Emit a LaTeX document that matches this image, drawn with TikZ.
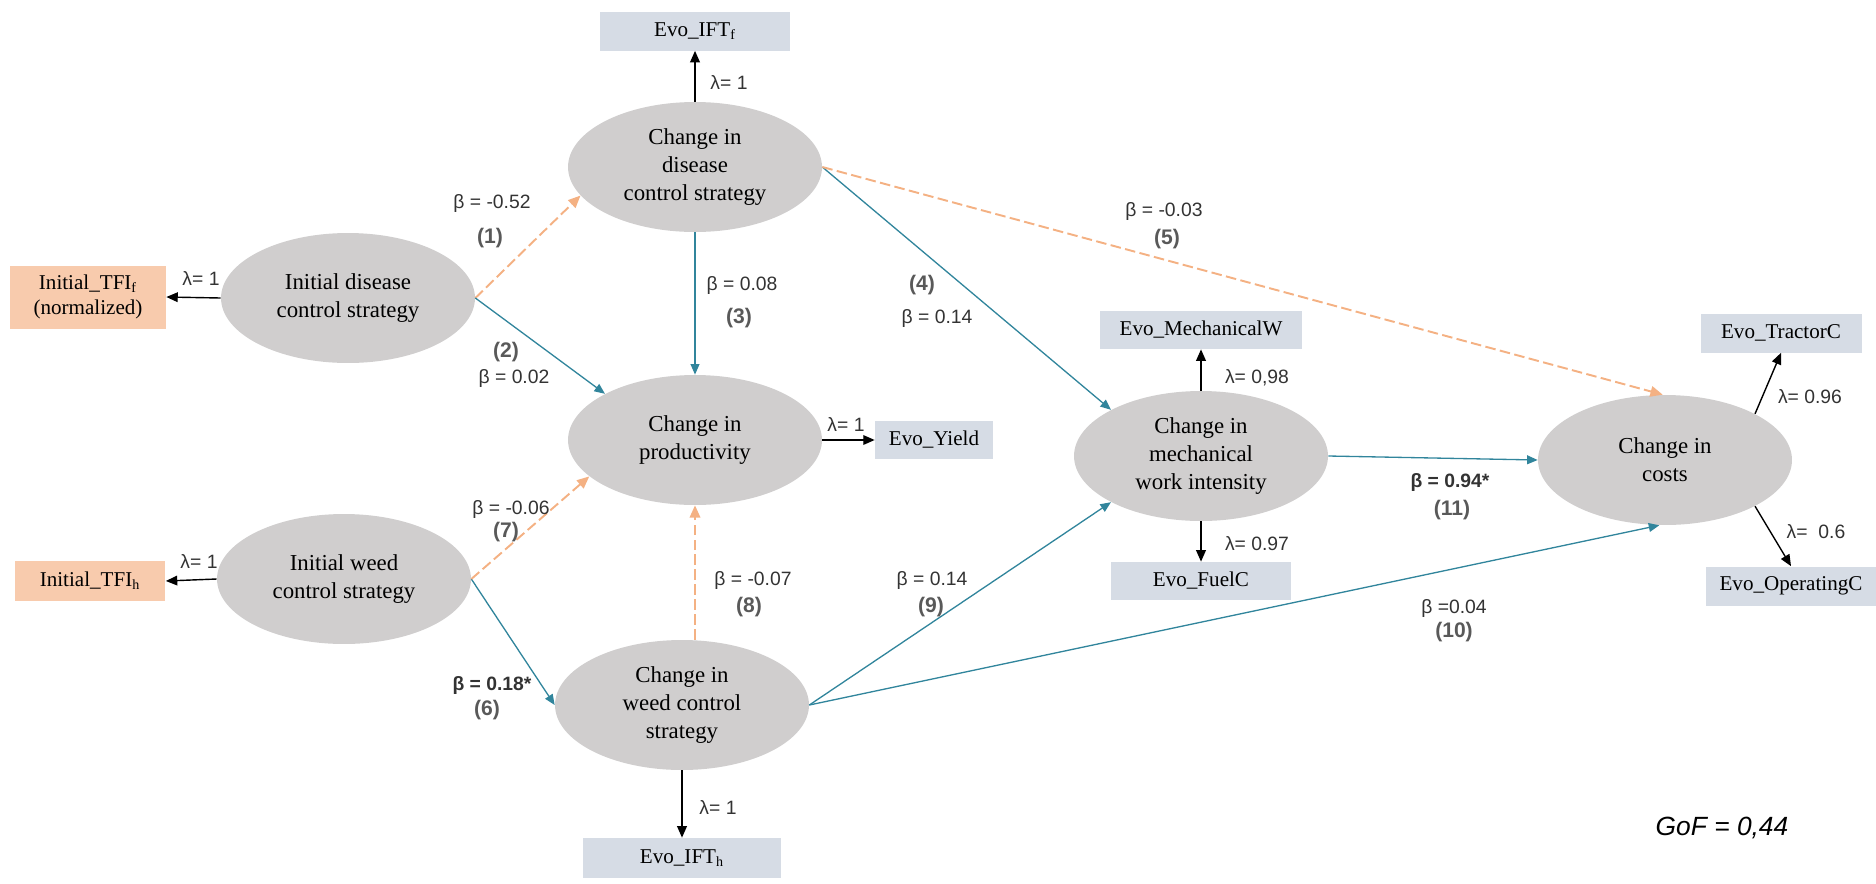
\documentclass[tikz,border=0pt]{standalone}
\usepackage{fontspec}
\setmainfont{Liberation Serif}
\setsansfont{Liberation Sans}
\usetikzlibrary{shapes.geometric,arrows.meta}
\definecolor{latent}{HTML}{D0CECE}
\definecolor{evobox}{HTML}{D6DCE5}
\definecolor{initbox}{HTML}{F8CBAD}
\definecolor{sigpath}{HTML}{31859C}
\definecolor{nspath}{HTML}{F4B183}
\definecolor{pathnum}{HTML}{595959}

\begin{document}
\begin{tikzpicture}[x=0.02cm,y=-0.02cm,
  latentvar/.style={ellipse,fill=latent,minimum width=5.08cm,minimum height=2.6cm,inner sep=0pt,align=center,font=\fontsize{13}{16}\selectfont},
  manifest/.style={rectangle,fill=evobox,inner sep=0pt,align=center,font=\fontsize{12}{14.5}\selectfont},
  initial/.style={manifest,fill=initbox},
  coef/.style={font=\sffamily\fontsize{11}{13}\selectfont,text=black!80,inner sep=1pt},
  coefbold/.style={coef,font=\sffamily\bfseries\fontsize{11}{13}\selectfont},
  pathno/.style={font=\sffamily\bfseries\fontsize{12}{15}\selectfont,text=pathnum,inner sep=1pt},
  loading/.style={draw=black,line width=0.8pt,-{Triangle[length=6.5pt,width=5.5pt]}},
  sigarrow/.style={draw=sigpath,line width=0.75pt,-{Triangle[length=6pt,width=5pt]}},
  nsarrow/.style={draw=nspath,line width=1.1pt,dash pattern=on 6pt off 2.5pt,-{Triangle[length=7pt,width=6pt]}}]
\useasboundingbox (0,0) rectangle (1876,883);

% latent variables
\node[latentvar] (idis) at (348,298) {Initial disease\\control strategy};
\node[latentvar] (iweed) at (344,579) {Initial weed\\control strategy};
\node[latentvar] (cdis) at (695,167) {Change in\\disease\\control strategy};
\node[latentvar] (cprod) at (695,440) {Change in\\productivity};
\node[latentvar] (cweed) at (682,705) {Change in\\weed control\\strategy};
\node[latentvar] (cmech) at (1201,456) {Change in\\mechanical\\work intensity};
\node[latentvar] (ccost) at (1665,460) {Change in\\costs};

% indicators
\node[initial,minimum width=3.12cm,minimum height=1.26cm] (tfif) at (88,297) {Initial\_TFI\textsubscript{f}\\(normalized)};
\node[initial,minimum width=3.02cm,minimum height=0.8cm] (tfih) at (90,581) {Initial\_TFI\textsubscript{h}};
\node[manifest,minimum width=3.8cm,minimum height=0.78cm] (iftf) at (695,31) {Evo\_IFT\textsubscript{f}};
\node[manifest,minimum width=3.96cm,minimum height=0.8cm] (ifth) at (682,858) {Evo\_IFT\textsubscript{h}};
\node[manifest,minimum width=2.36cm,minimum height=0.76cm] (yield) at (934,440) {Evo\_Yield};
\node[manifest,minimum width=4.04cm,minimum height=0.76cm] (mechw) at (1201,330) {Evo\_MechanicalW};
\node[manifest,minimum width=3.6cm,minimum height=0.76cm] (fuelc) at (1201,581) {Evo\_FuelC};
\node[manifest,minimum width=3.22cm,minimum height=0.78cm] (tractc) at (1781,333) {Evo\_TractorC};
\node[manifest,minimum width=3.4cm,minimum height=0.78cm] (operc) at (1791,586) {Evo\_OperatingC};

% loadings
\draw[loading] (idis.west) -- (tfif.east);
\draw[loading] (iweed.west) -- (tfih.east);
\draw[loading] (cdis.north) -- (iftf.south);
\draw[loading] (cweed.south) -- (ifth.north);
\draw[loading] (cprod.east) -- (yield.west);
\draw[loading] (cmech.north) -- (mechw.south);
\draw[loading] (cmech.south) -- (fuelc.north);
\draw[loading] (ccost.north east) -- (tractc.south);
\draw[loading] (ccost.south east) -- (operc.north);

% paths
\draw[nsarrow] (idis.east) -- (cdis.194);
\draw[sigarrow] (idis.east) -- (cprod.north west);
\draw[sigarrow] (cdis.south) -- (cprod.north);
\draw[sigarrow] (cdis.east) -- (cmech.north west);
\draw[nsarrow] (cdis.east) -- (ccost.92);
\draw[sigarrow] (iweed.east) -- (cweed.west);
\draw[nsarrow] (iweed.east) -- (cprod.199);
\draw[nsarrow] (cweed.north -| cprod.south) -- (cprod.south);
\draw[sigarrow] (cweed.east) -- (cmech.south west);
\draw[sigarrow] (cweed.east) -- (ccost.265);
\draw[sigarrow] (cmech.east) -- (ccost.west);

% coefficients
\node[coef] (b1) at (492,203) {β = -0.52};
\node[pathno] (n1) at (490,238) {(1)};
\node[pathno] (n2) at (506,352) {(2)};
\node[coef] (b2) at (514,378) {β = 0.02};
\node[coef] (b3) at (742,285) {β = 0.08};
\node[pathno] (n3) at (739,318) {(3)};
\node[pathno] (n4) at (922,285) {(4)};
\node[coef] (b4) at (937,318) {β = 0.14};
\node[coef] (b5) at (1164,211) {β = -0.03};
\node[pathno] (n5) at (1167,239) {(5)};
\node[coefbold] (b6) at (492,685) {β = 0.18*};
\node[pathno] (n6) at (487,710) {(6)};
\node[coef] (b7) at (511,509) {β = -0.06};
\node[pathno] (n7) at (506,532) {(7)};
\node[coef] (b8) at (753,580) {β = -0.07};
\node[pathno] (n8) at (749,607) {(8)};
\node[coef] (b9) at (932,580) {β = 0.14};
\node[pathno] (n9) at (931,607) {(9)};
\node[coef] (b10) at (1454,608) {β =0.04};
\node[pathno] (n10) at (1454,632) {(10)};
\node[coefbold] (b11) at (1450,482) {β = 0.94*};
\node[pathno] (n11) at (1452,510) {(11)};

\node[coef] (l1) at (201,278) {λ= 1};
\node[coef] (l2) at (199,561) {λ= 1};
\node[coef] (l3) at (729,82) {λ= 1};
\node[coef] (l4) at (718,807) {λ= 1};
\node[coef] (l5) at (846,424) {λ= 1};
\node[coef] (l6) at (1257,378) {λ= 0,98};
\node[coef] (l7) at (1257,544) {λ= 0.97};
\node[coef] (l8) at (1810,397) {λ= 0.96};
\node[coef] (l9) at (1816,532) {λ=\ \ 0.6};

\node[font=\sffamily\itshape\fontsize{15}{18}\selectfont] (gof) at (1722,828) {GoF = 0,44};
\end{tikzpicture}
\end{document}
